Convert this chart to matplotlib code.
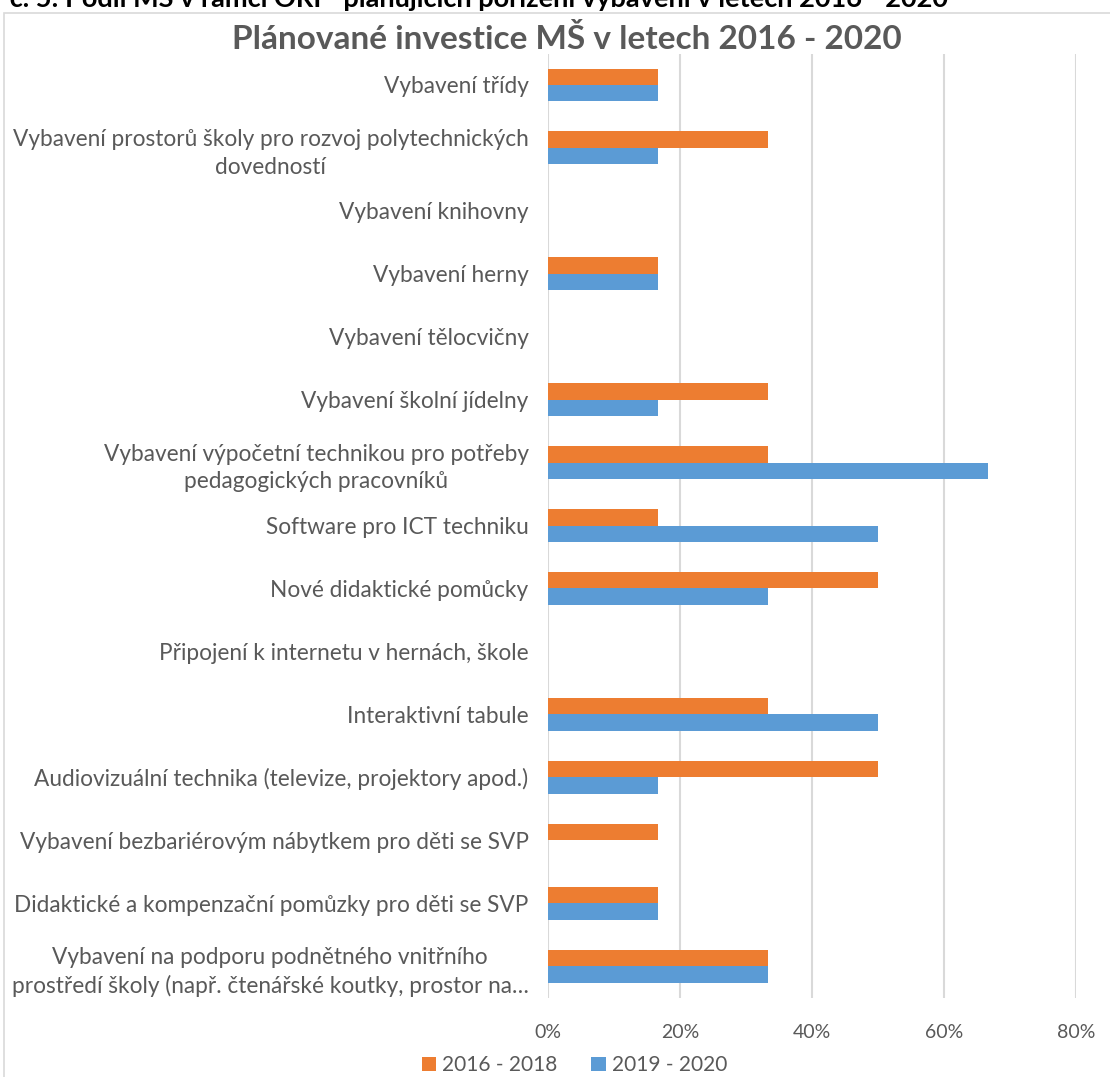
import numpy as np
import matplotlib.pyplot as plt
from matplotlib.patches import Rectangle

plt.rcParams['font.family'] = ['Lato', 'DejaVu Sans']

kategorie = [
    "Vybavení třídy",
    "Vybavení prostorů školy pro rozvoj polytechnických\ndovedností",
    "Vybavení knihovny",
    "Vybavení herny",
    "Vybavení tělocvičny",
    "Vybavení školní jídelny",
    "Vybavení výpočetní technikou pro potřeby\npedagogických pracovníků",
    "Software pro ICT techniku",
    "Nové didaktické pomůcky",
    "Připojení k internetu v hernách, škole",
    "Interaktivní tabule",
    "Audiovizuální technika (televize, projektory apod.)",
    "Vybavení bezbariérovým nábytkem pro děti se SVP",
    "Didaktické a kompenzační pomůzky pro děti se SVP",
    "Vybavení na podporu podnětného vnitřního\nprostředí školy (např. čtenářské koutky, prostor na…",
]
obdobi_1 = [1/6, 2/6, 0, 1/6, 0, 2/6, 2/6, 1/6, 3/6, 0, 2/6, 3/6, 1/6, 1/6, 2/6]
obdobi_2 = [1/6, 1/6, 0, 1/6, 0, 1/6, 4/6, 3/6, 2/6, 0, 3/6, 1/6, 0, 1/6, 2/6]
serie = ["2016 - 2018", "2019 - 2020"]
barvy = ["#ED7D31", "#5B9BD5"]
x_ticks = [0, 0.2, 0.4, 0.6, 0.8]

seda = "#595959"

fig = plt.figure(figsize=(11.1, 10.77), dpi=100)
ax = fig.add_axes([0.4937, 0.0738, 0.4757, 0.8765])

# ramecek grafu
fig.patches.append(Rectangle((4 / 1110, -0.01), 1.05, 1 - 13 / 1077 + 0.01,
                             transform=fig.transFigure, fill=False,
                             edgecolor="#d9d9d9", linewidth=1.2))

y = np.arange(len(kategorie))
h = 0.262
ax.barh(y - h / 2, obdobi_1, height=h, color=barvy[0], label=serie[0], zorder=3)
ax.barh(y + h / 2, obdobi_2, height=h, color=barvy[1], label=serie[1], zorder=3)

ax.set_ylim(len(kategorie) - 0.5, -0.5)
ax.set_xlim(0, 0.8)
ax.set_yticks(y)
ax.set_yticklabels(kategorie, fontsize=16.3, color=seda, multialignment="center",
                   linespacing=1.4)
ax.set_xticks(x_ticks)
ax.set_xticklabels([f"{int(v * 100)}%" for v in x_ticks], fontsize=14, color=seda)
ax.tick_params(axis="both", length=0)
ax.tick_params(axis="y", pad=14)
ax.tick_params(axis="x", pad=19)
ax.grid(axis="x", color="#d9d9d9", linewidth=1.5, zorder=0)
for s in ax.spines.values():
    s.set_visible(False)

ax.set_title("Plánované investice MŠ v letech 2016 - 2020", fontsize=24,
             fontweight="bold", color=seda, x=0.035, pad=-1)

ax.legend(loc="center", bbox_to_anchor=(0.05, -0.072), ncol=2, frameon=False,
          fontsize=15, labelcolor=seda, handlelength=0.7, handleheight=0.7,
          handletextpad=0.3, columnspacing=1.6)

fig.text(-0.045, 1.003, "Graf č. 5: Podíl MŠ v rámci ORP  plánujících pořízení vybavení v letech 2016 - 2020",
         fontsize=19.5, fontweight="bold", color="black", va="center", ha="left")

fig.savefig("out.png", dpi=100)
